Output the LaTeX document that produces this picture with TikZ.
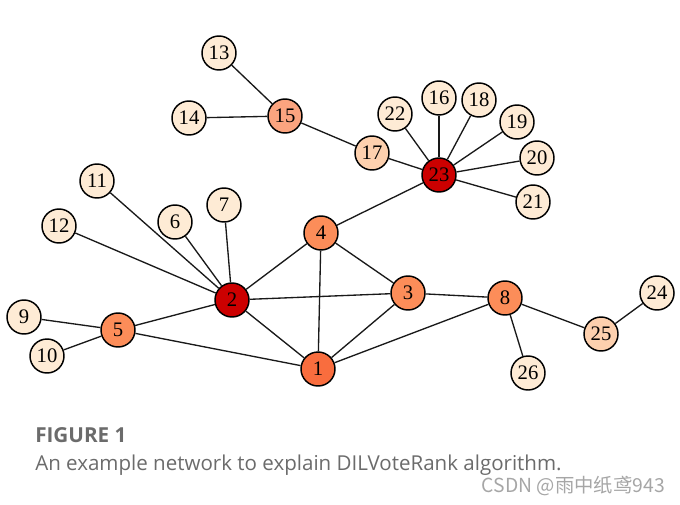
\documentclass[tikz,border=0pt]{standalone}
\usepackage{fontspec}
\setmainfont{Liberation Serif}
\newfontfamily\capfont{Open Sans}
\newfontfamily\cjk{Noto Sans CJK SC}
\definecolor{cream}{HTML}{FEEBD5}
\definecolor{peach}{HTML}{FDD0AE}
\definecolor{salmon}{HTML}{FBA47F}
\definecolor{orng}{HTML}{FC8D59}
\definecolor{orngdk}{HTML}{F96D3E}
\definecolor{dred}{HTML}{CC0000}
\definecolor{capgray}{HTML}{6B6B6B}
\tikzset{
  vtx/.style={circle,draw=black,line width=1.1pt,minimum size=25.5pt,inner sep=0pt,font=\fontsize{15.5}{15.5}\selectfont},
  edge/.style={line width=1pt,black!90}
}
\begin{document}
\begin{tikzpicture}[x=0.75pt,y=-0.75pt]
\useasboundingbox (0,0) rectangle (680,504);
% nodes
\node[vtx,fill=cream] (n13) at (219,53) {13};
\node[vtx,fill=cream] (n14) at (189,118) {14};
\node[vtx,fill=salmon] (n15) at (285,116) {15};
\node[vtx,fill=peach] (n17) at (372,153) {17};
\node[vtx,fill=cream] (n22) at (395,114) {22};
\node[vtx,fill=cream] (n16) at (439,98) {16};
\node[vtx,fill=cream] (n18) at (479,100) {18};
\node[vtx,fill=cream] (n19) at (517,122) {19};
\node[vtx,fill=cream] (n20) at (537,158) {20};
\node[vtx,fill=cream] (n21) at (533,202) {21};
\node[vtx,fill=dred] (n23) at (439,175) {23};
\node[vtx,fill=cream] (n11) at (97,181) {11};
\node[vtx,fill=cream] (n12) at (59,226) {12};
\node[vtx,fill=cream] (n6) at (175,222) {6};
\node[vtx,fill=cream] (n7) at (224,205) {7};
\node[vtx,fill=orng] (n4) at (321,233) {4};
\node[vtx,fill=dred] (n2) at (232,300) {2};
\node[vtx,fill=orng] (n3) at (408,293) {3};
\node[vtx,fill=orng] (n8) at (505,298) {8};
\node[vtx,fill=cream] (n24) at (657,293) {24};
\node[vtx,fill=peach] (n25) at (601,334) {25};
\node[vtx,fill=cream] (n26) at (528,373) {26};
\node[vtx,fill=cream] (n9) at (24,317) {9};
\node[vtx,fill=orng] (n5) at (118,330) {5};
\node[vtx,fill=cream] (n10) at (47,356) {10};
\node[vtx,fill=orngdk] (n1) at (318,369) {1};
% edges
\foreach \a/\b in {n13/n15,n14/n15,n15/n17,n17/n23,n22/n23,n16/n23,n18/n23,n19/n23,n20/n23,n21/n23,n23/n4,
  n11/n2,n12/n2,n6/n2,n7/n2,n4/n2,n2/n3,n2/n5,n2/n1,n4/n1,n4/n3,n3/n1,n3/n8,n1/n8,n8/n25,n8/n26,n25/n24,n9/n5,n10/n5,n5/n1}
  \draw[edge] (\a) -- (\b);
% caption
\node[anchor=base west,inner sep=0pt,text=capgray,font=\capfont\bfseries\fontsize{15.5}{15.5}\selectfont] (figlab) at (35,442) {FIGURE 1};
\node[anchor=base west,inner sep=0pt,text=capgray,font=\capfont\fontsize{15.4}{15.4}\selectfont] (figcap) at (35,470) {An example network to explain DILVoteRank algorithm.};
\node[anchor=base east,inner sep=0pt,text=black!35,font=\cjk\fontsize{14.5}{14.5}\selectfont] (wm) at (665,492) {CSDN @雨中纸鸢943};
\end{tikzpicture}
\end{document}
